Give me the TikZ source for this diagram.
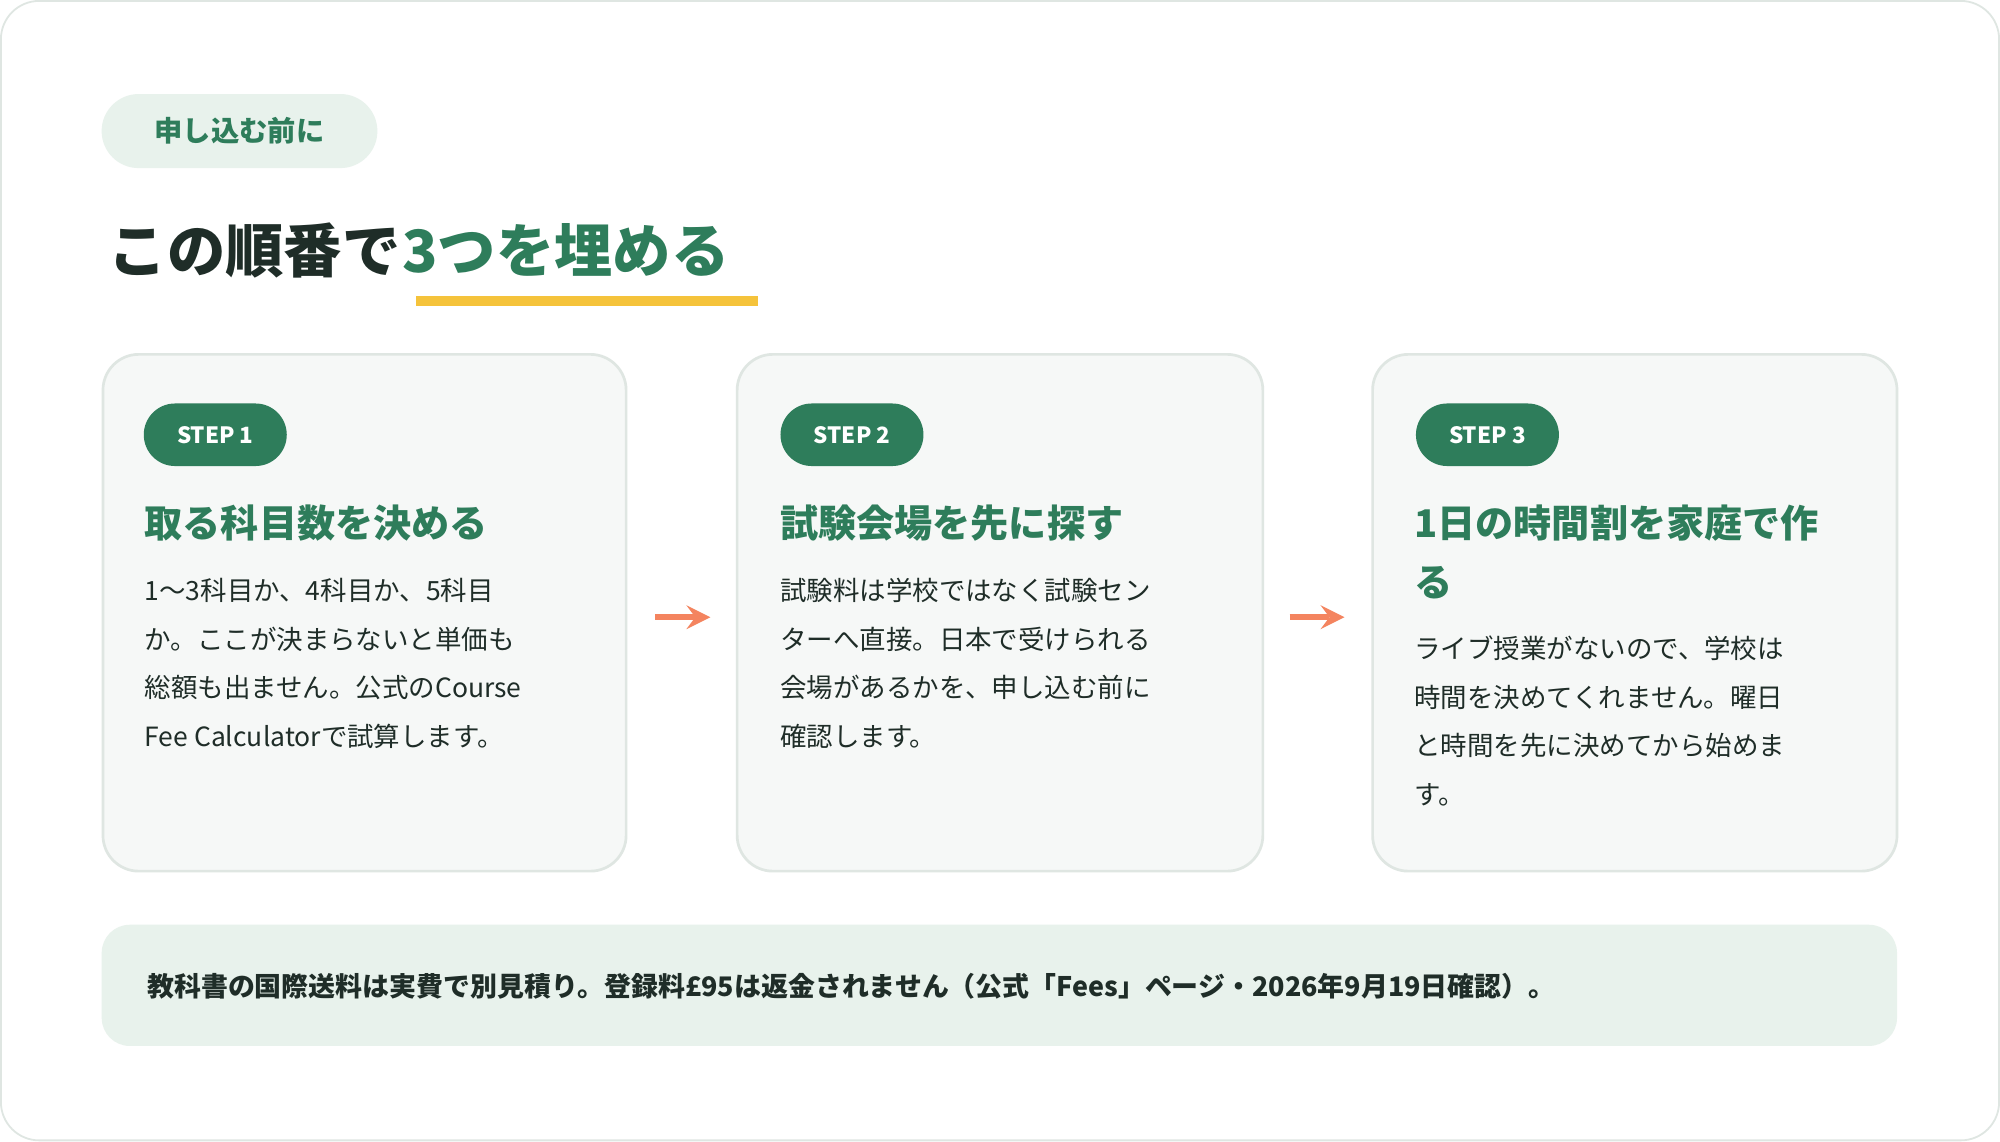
\documentclass[tikz,border=0pt]{standalone}
\usepackage{fontspec}
\setmainfont{Noto Sans CJK JP}
\usetikzlibrary{positioning}
\definecolor{green}{HTML}{2E7D5B}
\definecolor{pale}{HTML}{E8F2EC}
\definecolor{dark}{HTML}{1F2D28}
\definecolor{cardbg}{HTML}{F6F8F7}
\definecolor{cardline}{HTML}{DFE6E2}
\definecolor{yellow}{HTML}{F5C33B}
\definecolor{orange}{HTML}{F4845F}
\begin{document}
\begin{tikzpicture}[x=0.01cm, y=-0.01cm,
  card/.style={draw=cardline, line width=0.6pt, fill=cardbg, rounded corners=0.28cm},
  steppill/.style={fill=green, text=white, rounded corners=0.245cm, font=\bfseries\fontsize{5}{6}\selectfont, minimum width=1.12cm, minimum height=0.49cm, inner sep=0pt},
  head/.style={anchor=north west, text=green, font=\bfseries\fontsize{8.5}{13.2}\selectfont, inner sep=0pt, align=left},
  body/.style={anchor=north west, text=dark, font=\fontsize{5.9}{10.8}\selectfont, inner sep=0pt, align=left},
  arrow/.style={draw=orange, line width=1.3pt, -stealth}]

\draw[draw=cardline, fill=white, rounded corners=0.3cm] (1,1) rectangle (1567,894);

\node[fill=pale, text=green, rounded corners=0.29cm, font=\bfseries\fontsize{6.3}{7}\selectfont, minimum width=2.16cm, minimum height=0.58cm] (tag) at (188,103) {申し込む前に};

\node[anchor=base west, inner sep=0pt, text=dark, font=\bfseries\fontsize{13}{15}\selectfont] (title) at (85,214) {この順番で};
\node[anchor=base west, inner sep=0pt, text=green, font=\bfseries\fontsize{13}{15}\selectfont] (title2) at (title.base east) {3つを埋める};
\fill[yellow] (326,232) rectangle (594,240);

% cards
\draw[card] (81,278) rectangle (491,683);
\draw[card] (578,278) rectangle (990,683);
\draw[card] (1076,278) rectangle (1487,683);

\node[steppill] (s1) at (169,341) {STEP 1};
\node[steppill] (s2) at (668,341) {STEP 2};
\node[steppill] (s3) at (1166,341) {STEP 3};

\node[head] (h1) at (113,395) {取る科目数を決める};
\node[head] (h2) at (611,395) {試験会場を先に探す};
\node[head] (h3) at (1108,395) {1日の時間割を家庭で作\\る};

\node[body] (b1) at (113,453) {1〜3科目か、4科目か、5科目\\か。ここが決まらないと単価も\\総額も出ません。公式のCourse\\Fee Calculatorで試算します。};
\node[body] (b2) at (611,453) {試験料は学校ではなく試験セン\\ターへ直接。日本で受けられる\\会場があるかを、申し込む前に\\確認します。};
\node[body] (b3) at (1108,498) {ライブ授業がないので、学校は\\時間を決めてくれません。曜日\\と時間を先に決めてから始めま\\す。};

\coordinate (a1) at (514,484); \coordinate (a2) at (557,484);
\coordinate (a3) at (1011,484); \coordinate (a4) at (1054,484);
\draw[arrow] (a1) -- (a2);
\draw[arrow] (a3) -- (a4);

% note
\fill[pale, rounded corners=0.22cm] (80,725) rectangle (1487,820);
\node[anchor=west, inner sep=0pt, text=dark, font=\bfseries\fontsize{6}{7}\selectfont] (note) at (115,773) {教科書の国際送料は実費で別見積り。登録料£95は返金されません（公式「Fees」ページ・2026年9月19日確認）。};
\end{tikzpicture}
\end{document}
